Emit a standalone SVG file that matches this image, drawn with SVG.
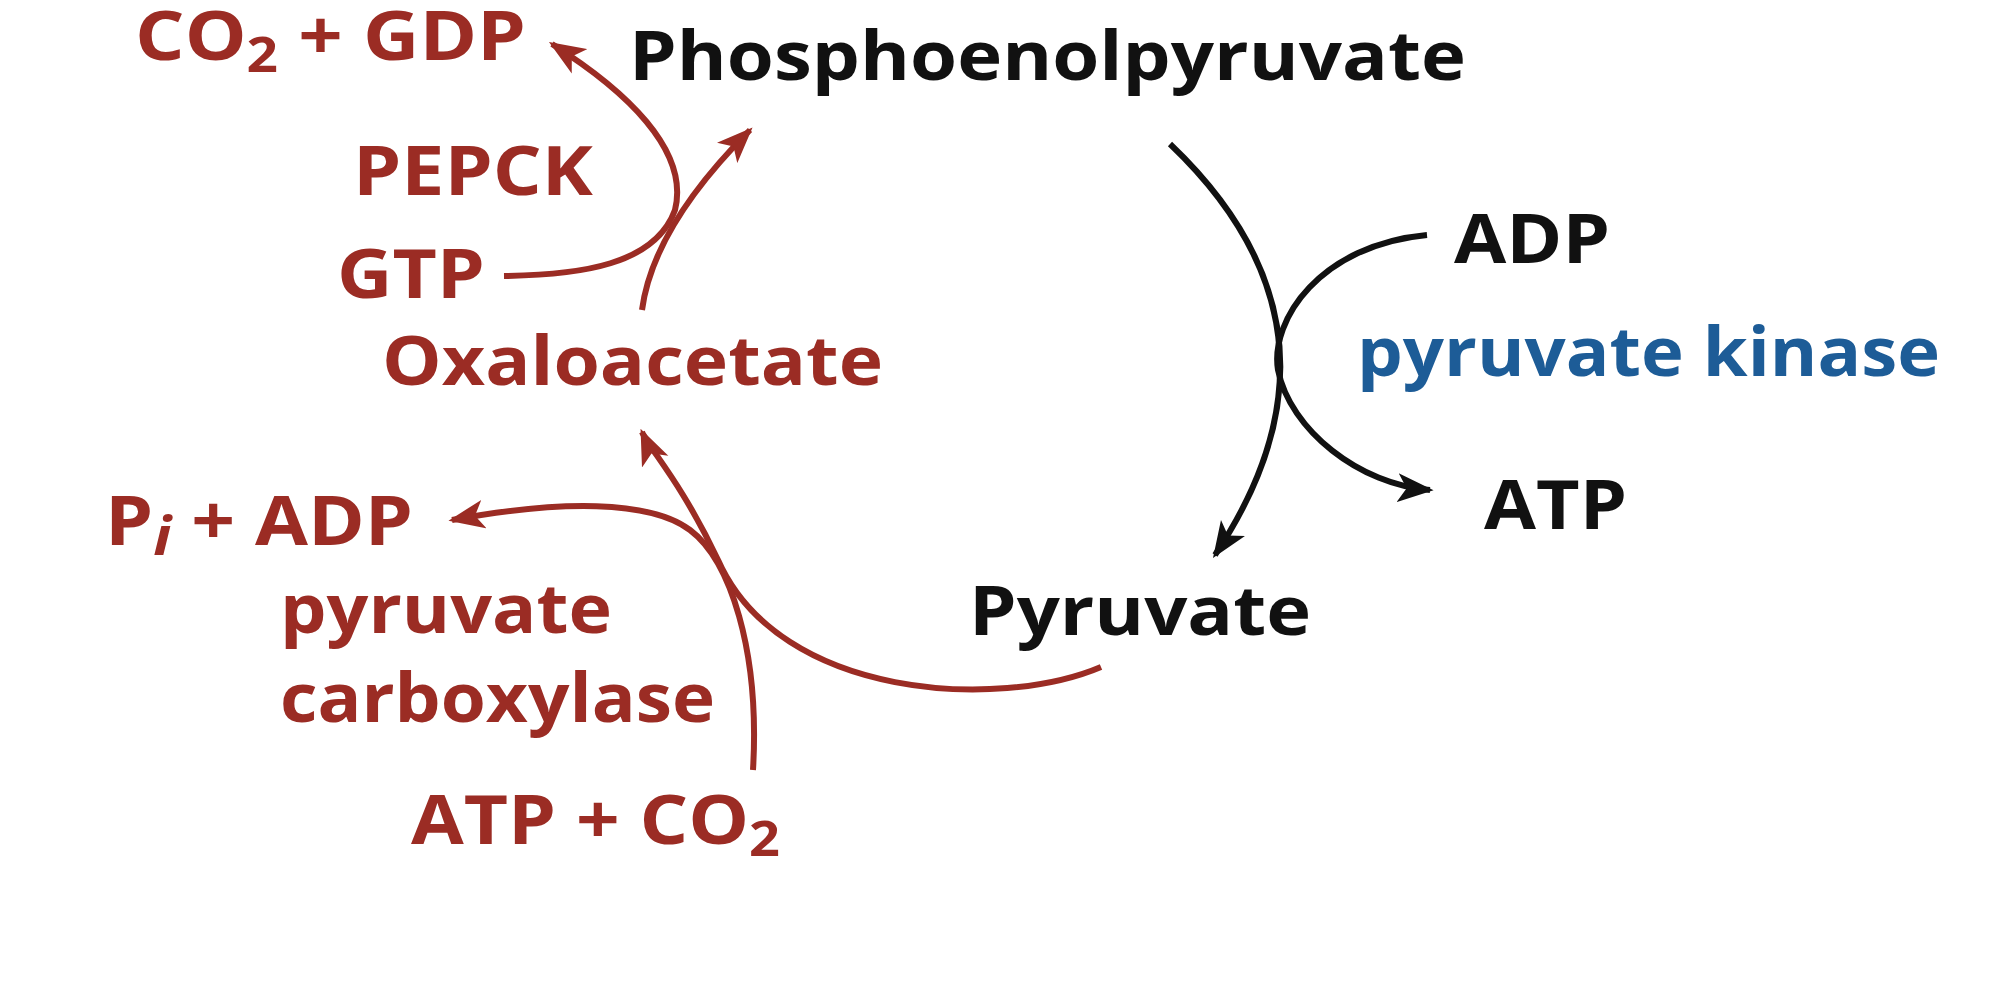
<svg xmlns="http://www.w3.org/2000/svg" width="1997" height="1000" viewBox="0 0 1997 1000">
<defs>
<style>
text{font-family:"Open Sans","Liberation Sans",sans-serif;font-weight:bold;font-size:68px}
.r{fill:#9b2c24}.k{fill:#111}.b{fill:#1d5c97}
.cr{fill:none;stroke:#9b2c24;stroke-width:6}
.ck{fill:none;stroke:#111;stroke-width:6}
</style>
<marker id="ar" viewBox="0 0 20 16" refX="18" refY="8" markerWidth="6" markerHeight="5" markerUnits="strokeWidth" orient="auto"><path d="M0,0 L20,8 L0,16 L5,8 Z" fill="#9b2c24"/></marker>
<marker id="ak" viewBox="0 0 20 16" refX="18" refY="8" markerWidth="6" markerHeight="5" markerUnits="strokeWidth" orient="auto"><path d="M0,0 L20,8 L0,16 L5,8 Z" fill="#111"/></marker>
</defs>
<rect width="1997" height="1000" fill="#fff"/>
<g id="connectors">
<path class="ck" d="M1170,144 Q1365,330 1215,555" marker-end="url(#ak)"/>
<path class="ck" d="M1427,235 C1320,245 1270,320 1278,370 C1290,430 1360,485 1430,490" marker-end="url(#ak)"/>
<path class="cr" d="M1101,667 C1000,710 780,700 718,560 C680,480 650,450 642,432" marker-end="url(#ar)"/>
<path class="cr" d="M753,770 C760,650 730,560 690,530 C650,500 560,500 452,520" marker-end="url(#ar)"/>
<path class="cr" d="M642,310 C650,250 690,190 750,130" marker-end="url(#ar)"/>
<path class="cr" d="M504,276 C580,275 655,265 675,210 C690,150 625,90 552,44" marker-end="url(#ar)"/>
</g>
<g id="pep"><text class="k" x="629" y="80" textLength="837" lengthAdjust="spacingAndGlyphs">Phosphoenolpyruvate</text></g>
<g id="co2gdp"><text class="r" x="135" y="60" textLength="391" lengthAdjust="spacingAndGlyphs">CO<tspan font-size="48" dy="12">2</tspan><tspan dy="-12"> + GDP</tspan></text></g>
<g id="pepck"><text class="r" x="353" y="195" textLength="240" lengthAdjust="spacingAndGlyphs">PEPCK</text></g>
<g id="gtp"><text class="r" x="337" y="298" textLength="148" lengthAdjust="spacingAndGlyphs">GTP</text></g>
<g id="oaa"><text class="r" x="382" y="385" textLength="501" lengthAdjust="spacingAndGlyphs">Oxaloacetate</text></g>
<g id="piadp"><text class="r" x="105" y="545" textLength="308" lengthAdjust="spacingAndGlyphs">P<tspan font-style="italic" font-size="54" dy="10">i</tspan><tspan dy="-10"> + ADP</tspan></text></g>
<g id="pc"><text class="r" x="280" y="633" textLength="332" lengthAdjust="spacingAndGlyphs">pyruvate</text><text class="r" x="280" y="722" textLength="435" lengthAdjust="spacingAndGlyphs">carboxylase</text></g>
<g id="atpco2"><text class="r" x="411" y="844" textLength="369" lengthAdjust="spacingAndGlyphs">ATP + CO<tspan font-size="48" dy="12">2</tspan></text></g>
<g id="adp"><text class="k" x="1454" y="263" textLength="156" lengthAdjust="spacingAndGlyphs">ADP</text></g>
<g id="pk"><text class="b" x="1357" y="376" textLength="583" lengthAdjust="spacingAndGlyphs">pyruvate kinase</text></g>
<g id="atp"><text class="k" x="1484" y="529" textLength="143" lengthAdjust="spacingAndGlyphs">ATP</text></g>
<g id="pyr"><text class="k" x="969" y="635" textLength="342" lengthAdjust="spacingAndGlyphs">Pyruvate</text></g>
</svg>
